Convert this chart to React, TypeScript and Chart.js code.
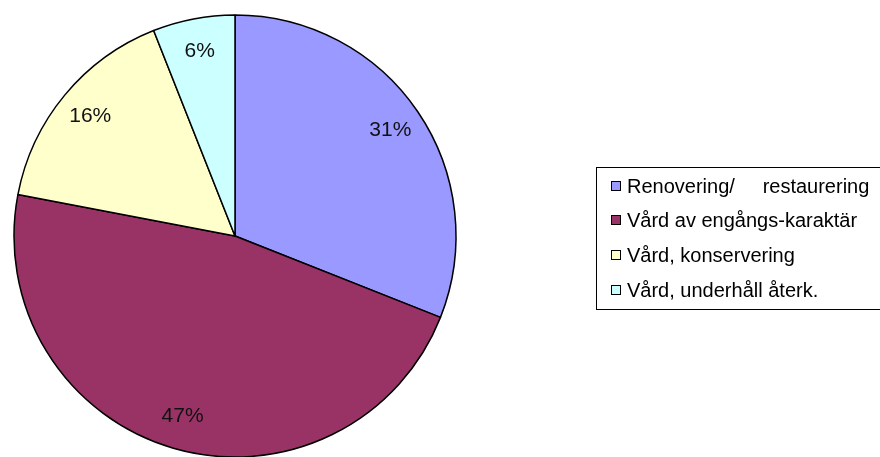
import React, { useEffect, useRef } from "react";
import { Chart, registerables } from "chart.js";

Chart.register(...registerables);

const categories = [
  "Renovering/     restaurering",
  "Vård av engångs-karaktär",
  "Vård, konservering",
  "Vård, underhåll återk.",
];
const values = [31, 47, 16, 6];
const percentLabels = ["31%", "47%", "16%", "6%"];
const colors = ["#9999FF", "#993366", "#FFFFCC", "#CCFFFF"];

const pieLabelsPlugin = {
  id: "pieLabels",
  afterDatasetsDraw(chart: any) {
    const ctx = chart.ctx;
    const meta = chart.getDatasetMeta(0);
    ctx.save();
    ctx.font = "21px 'Liberation Sans', Arial, sans-serif";
    ctx.fillStyle = "#111";
    ctx.textAlign = "center";
    ctx.textBaseline = "middle";
    meta.data.forEach((arc: any, i: number) => {
      const { x, y, startAngle, endAngle, outerRadius } = arc.getProps(
        ["x", "y", "startAngle", "endAngle", "outerRadius"],
        true
      );
      const mid = (startAngle + endAngle) / 2;
      const r = outerRadius * 0.85;
      ctx.fillText(percentLabels[i], x + Math.cos(mid) * r, y + Math.sin(mid) * r);
    });
    ctx.restore();
  },
};

const legendPlugin = {
  id: "boxLegend",
  afterDraw(chart: any) {
    const ctx = chart.ctx;
    const left = 596;
    const top = 167;
    const bottom = 309;
    ctx.save();
    ctx.strokeStyle = "#000";
    ctx.lineWidth = 1;
    ctx.strokeRect(left + 0.5, top + 0.5, 400, bottom - top);
    const rowY = [187, 221, 256, 291];
    ctx.font = "20px 'Liberation Sans', Arial, sans-serif";
    ctx.textBaseline = "middle";
    ctx.textAlign = "left";
    categories.forEach((label, i) => {
      const y = rowY[i];
      ctx.fillStyle = colors[i];
      ctx.fillRect(611.5, y - 5.5, 9, 9);
      ctx.strokeStyle = "#000";
      ctx.lineWidth = 1;
      ctx.strokeRect(611.5, y - 5.5, 9, 9);
      ctx.fillStyle = "#000";
      ctx.fillText(label, 627, y);
    });
    ctx.restore();
  },
};

export default function App() {
  const canvasRef = useRef<HTMLCanvasElement | null>(null);

  useEffect(() => {
    if (!canvasRef.current) return;
    const chart = new Chart(canvasRef.current, {
      type: "pie",
      data: {
        labels: categories,
        datasets: [
          {
            data: values,
            backgroundColor: colors,
            borderColor: "#000",
            borderWidth: 1.5,
          },
        ],
      },
      options: {
        animation: false,
        responsive: false,
        maintainAspectRatio: false,
        radius: 221,
        layout: { padding: { top: 15, bottom: 0, left: 0, right: 410 } },
        plugins: {
          legend: { display: false },
          tooltip: { enabled: false },
        },
      } as any,
      plugins: [pieLabelsPlugin, legendPlugin],
    });
    return () => chart.destroy();
  }, []);

  return (
    <div style={{ position: "fixed", left: 0, top: 0, width: 880, height: 457, background: "#fff" }}>
      <canvas ref={canvasRef} width={880} height={457} style={{ width: 880, height: 457 }} />
    </div>
  );
}
